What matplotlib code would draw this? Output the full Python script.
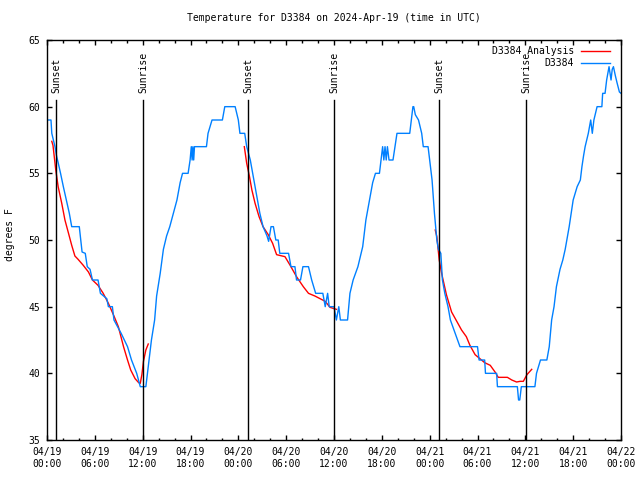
import matplotlib
matplotlib.use('Agg')
import matplotlib.pyplot as plt
import matplotlib.dates as mdates
import pandas as pd

plt.rcParams['font.family'] = 'DejaVu Sans Mono'
plt.rcParams['font.size'] = 7

start = pd.Timestamp('2024-04-19 00:00')

# observed temperature (hours after start, deg F)
obs_hours = [0.0, 0.5, 0.6, 1.0, 1.2, 1.4, 1.7, 2.05, 2.5, 2.8, 3.1, 4.05, 4.4, 4.8, 5.05, 5.4, 5.7,
             6.4, 6.7, 7.5, 7.7, 8.2, 8.4, 9.3, 10.1, 10.6, 11.25, 11.7, 12.4, 13.1, 13.5, 13.75,
             14.2, 14.6, 15.0, 15.4, 15.85, 16.3, 16.7, 17.0, 17.7, 17.95, 18.1, 18.2, 18.3, 18.4,
             18.5, 20.0, 20.2, 20.7, 22.0, 22.3, 23.6, 24.0, 24.2, 24.8, 25.05, 25.5, 25.8, 26.3,
             26.7, 27.1, 27.6, 27.8, 28.1, 28.4, 28.7, 29.0, 29.2, 30.3, 30.6, 31.1, 31.3, 31.8,
             32.1, 32.8, 33.2, 33.7, 34.6, 34.9, 35.2, 35.4, 36.0, 36.3, 36.6, 36.8, 37.7, 38.0,
             38.4, 39.0, 39.6, 40.0, 40.4, 40.85, 41.2, 41.7, 41.9, 42.1, 42.25, 42.4, 42.55, 42.7,
             42.9, 43.4, 43.9, 45.5, 45.9, 46.0, 46.2, 46.6, 47.0, 47.2, 47.8, 48.3, 48.6, 48.9,
             49.1, 49.4, 49.6, 49.9, 50.3, 50.6, 51.2, 51.8, 54.0, 54.2, 54.9, 55.0, 56.4, 56.5,
             59.0, 59.15, 59.3, 59.5, 61.2, 61.4, 61.9, 62.7, 63.0, 63.3, 63.6, 63.9, 64.35, 64.7,
             65.0, 65.5, 66.0, 66.5, 66.9, 67.1, 67.3, 67.5, 67.9, 68.2, 68.4, 68.6, 69.0, 69.6,
             69.7, 70.0, 70.2, 70.5, 70.75, 70.9, 71.05, 71.3, 71.5, 71.8, 72.0]
obs_temp = [59, 59, 58, 57, 56.3, 55.8, 55, 54, 52.8, 52, 51, 51, 49.1, 49, 48, 47.8, 47,
            47, 46, 45.6, 45, 45, 44, 43, 42, 41, 40, 39, 39, 42.5, 44, 45.8,
            47.5, 49.3, 50.3, 51, 52, 53, 54.3, 55, 55, 56, 57, 56, 57, 56,
            57, 57, 58, 59, 59, 60, 60, 59, 58, 58, 57, 56, 55, 53.3,
            52, 51, 50.3, 49.9, 51, 51, 50, 50, 49, 49, 48, 48, 47, 47,
            48, 48, 47, 46, 46, 45, 46, 45, 45, 44, 45, 44, 44, 46,
            47, 48, 49.5, 51.5, 52.8, 54.3, 55, 55, 56, 57, 56, 57, 56, 57,
            56, 56, 58, 58, 60, 60, 59.4, 59, 58, 57, 57, 54.5, 52, 50,
            49.3, 49, 47, 46, 45, 44, 43, 42, 42, 41, 41, 40, 40, 39,
            39, 38, 38, 39, 39, 40, 41, 41, 42, 44, 45, 46.5, 47.8, 48.5,
            49.3, 51, 53, 54, 54.5, 55.5, 56.3, 57, 58, 59, 58, 59, 60, 60,
            61, 61, 62, 63, 62, 62.8, 63, 62.3, 61.8, 61.1, 61]

# analysis, one piece per night
ana1_hours = [0.6, 0.75, 1.1, 1.4, 1.85, 2.25, 2.7, 3.1, 3.5, 3.9, 4.55, 5.2, 5.7, 6.4, 7.05,
              7.7, 8.4, 8.95, 9.6, 10.1, 10.5, 11.05, 11.5, 11.7, 11.9, 12.1, 12.4, 12.7]
ana1_temp = [57.4, 57.1, 55.25, 54, 52.75, 51.5, 50.5, 49.6, 48.8, 48.55, 48.1, 47.6, 47, 46.6, 46,
             45.25, 44.3, 43.5, 42, 41, 40.25, 39.6, 39.3, 39.25, 39.9, 40.9, 41.75, 42.2]
ana2_hours = [24.75, 25.05, 25.4, 25.7, 26.1, 26.6, 27.1, 27.75, 28.3, 28.8, 29.85, 30.5, 31.3,
              32.15, 32.8, 33.6, 34.25, 34.9, 35.5, 36.3]
ana2_temp = [57, 55.75, 54.75, 53.75, 52.75, 51.75, 51, 50.4, 49.75, 48.9, 48.75, 48.1, 47.25,
             46.5, 46, 45.8, 45.6, 45.4, 44.95, 44.8]
ana3_hours = [48.7, 48.9, 49.2, 49.5, 50.1, 50.75, 51.4, 52.0, 52.6, 53.05, 53.7, 54.3, 54.9,
              55.6, 56.2, 56.6, 57.25, 57.75, 58.3, 58.9, 59.35, 59.75, 60.2, 60.8]
ana3_temp = [50.75, 50.25, 48.5, 47.5, 45.9, 44.6, 43.9, 43.25, 42.75, 42.1, 41.4, 41.1, 40.8,
             40.6, 40.1, 39.7, 39.7, 39.7, 39.5, 39.35, 39.4, 39.4, 39.9, 40.3]

sunsets = ['2024-04-19 01:08', '2024-04-20 01:14', '2024-04-21 01:13']
sunrises = ['2024-04-19 12:05', '2024-04-20 12:02', '2024-04-21 12:07']


def to_time(hours):
    return start + pd.to_timedelta(hours, unit='h')


fig = plt.figure(figsize=(6.4, 4.8), dpi=100)
ax = fig.add_axes([47 / 640, 40 / 480, 574 / 640, 400 / 480])

red = '#ff0000'
blue = '#0080ff'
ax.plot(to_time(ana1_hours), ana1_temp, color=red, lw=1.0, label='D3384 Analysis')
ax.plot(to_time(ana2_hours), ana2_temp, color=red, lw=1.0)
ax.plot(to_time(ana3_hours), ana3_temp, color=red, lw=1.0)
ax.plot(to_time(obs_hours), obs_temp, color=blue, lw=1.0, label='D3384')

for name, times in (('Sunset', sunsets), ('Sunrise', sunrises)):
    for t in pd.to_datetime(times):
        ax.plot([t, t], [35, 60.5], color='black', lw=1.0)
        ax.text(t, 61.0, name, rotation=90, ha='center', va='bottom')

ax.set_xlim(start, start + pd.Timedelta(hours=72))
ax.set_ylim(35, 65)
ax.set_yticks([35, 40, 45, 50, 55, 60, 65])
ax.xaxis.set_major_locator(mdates.HourLocator(byhour=[0, 6, 12, 18]))
ax.xaxis.set_minor_locator(mdates.HourLocator(byhour=range(0, 24, 2)))
ax.xaxis.set_major_formatter(mdates.DateFormatter('%m/%d\n%H:%M'))
ax.tick_params(which='both', direction='in', top=True, right=True, width=1.0)
ax.tick_params(which='major', length=3.3, pad=5)
ax.tick_params(which='minor', length=1.8)
for s in ax.spines.values():
    s.set_linewidth(1.0)

ax.set_title('Temperature for D3384 on 2024-Apr-19 (time in UTC)', fontsize=7, pad=14)
fig.text(10 / 640, 1 - 235 / 480, 'degrees F', rotation=90, ha='center', va='center')

ax.legend(loc='upper right', markerfirst=False, frameon=False, handlelength=3.0,
          handletextpad=0.7, labelspacing=0.25, borderpad=0.0, borderaxespad=0.0,
          bbox_to_anchor=(0.981, 0.985))

fig.savefig('out.png', dpi=100)
